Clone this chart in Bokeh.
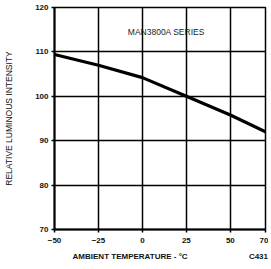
from bokeh.plotting import figure
from bokeh.models import Range1d, FixedTicker, LinearAxis, AllLabels
from bokeh.models import Label
from bokeh.embed import file_html
from bokeh.resources import INLINE

temps = [-50, -25, 0, 25, 50, 70]
intensity = [109.4, 107.0, 104.2, 100.0, 95.8, 92.0]
x_ticks = [-50, -25, 0, 25, 50, 70]
y_ticks = [70, 80, 90, 100, 110, 120]
title_text = "MAN3800A SERIES"
x_title = "AMBIENT TEMPERATURE - \u00b0C"
y_title = "RELATIVE LUMINOUS INTENSITY"
code_text = "C431"

p = figure(width=268, height=266, output_backend="svg", toolbar_location=None,
           x_range=Range1d(-50, 70), y_range=Range1d(70, 120),
           min_border_left=54, min_border_right=3, min_border_top=7, min_border_bottom=37)
p.background_fill_color = "white"
p.border_fill_color = "white"
p.outline_line_color = "black"
p.outline_line_width = 1.5

for ax in (p.xaxis[0], p.yaxis[0]):
    ax.axis_line_width = 2
    ax.axis_line_color = "black"
    ax.major_tick_line_color = "black"
    ax.major_tick_line_width = 1.5
    ax.major_tick_in = 0
    ax.major_tick_out = 3
    ax.minor_tick_line_color = None
    ax.major_label_text_font = "Liberation Sans"
    ax.major_label_text_font_style = "bold"
    ax.major_label_text_font_size = "8px"
    ax.major_label_text_color = "#111111"
    ax.axis_label_text_font = "Liberation Sans"
    ax.axis_label_text_color = "#111111"

p.xaxis.ticker = FixedTicker(ticks=x_ticks)
p.yaxis.ticker = FixedTicker(ticks=y_ticks)
p.xaxis.major_label_standoff = 5
p.yaxis.major_label_standoff = 3

p.yaxis.axis_label = y_title
p.yaxis.axis_label_text_font_size = "8.5px"
p.yaxis.axis_label_text_font_style = "normal"
p.yaxis.axis_label_standoff = 18

# second row under the x axis: axis title and the figure code, as text at data positions
title_row = LinearAxis(ticker=FixedTicker(ticks=[-7, 66]),
                       major_label_overrides={-7: x_title, 66: code_text},
                       major_label_policy=AllLabels(),
                       axis_line_color=None, major_tick_line_color=None,
                       minor_tick_line_color=None, major_tick_out=0, major_tick_in=0,
                       major_label_standoff=6,
                       major_label_text_font="Liberation Sans",
                       major_label_text_font_size="8px",
                       major_label_text_font_style="bold",
                       major_label_text_color="#111111")
p.add_layout(title_row, "below")

p.xgrid.ticker = FixedTicker(ticks=x_ticks)
p.ygrid.ticker = FixedTicker(ticks=y_ticks)
p.grid.grid_line_color = "black"
p.grid.grid_line_width = 1.5
p.grid.grid_line_alpha = 1.0

p.line(temps, intensity, line_color="black", line_width=3.2)

p.add_layout(Label(x=13.6, y=114.5, text=title_text, text_font="Liberation Sans",
                   text_font_size="8.5px", text_color="#222222", text_align="center",
                   text_baseline="middle"))

open("out.html", "w").write(file_html(p, INLINE))
